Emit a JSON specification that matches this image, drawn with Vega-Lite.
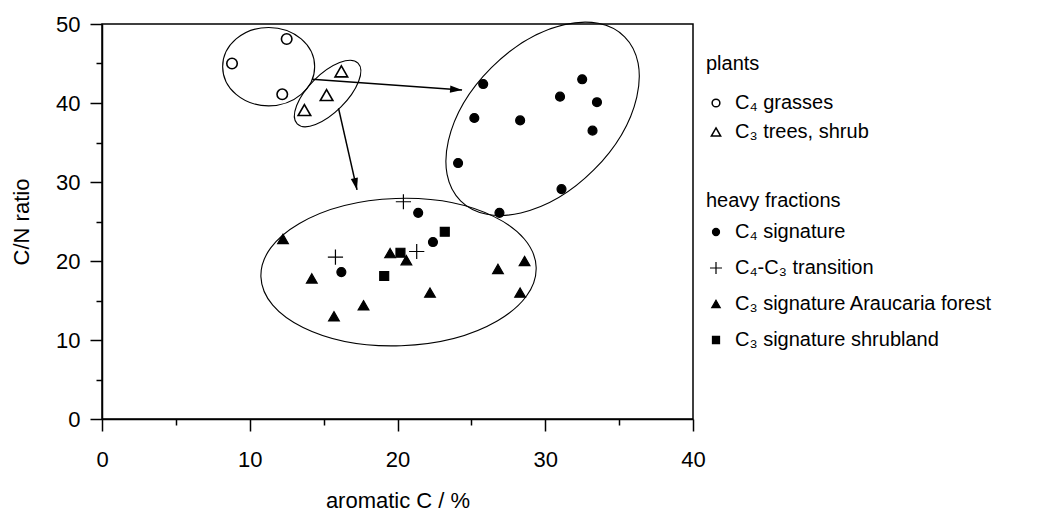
{
  "$schema": "https://vega.github.io/schema/vega-lite/v6.json",
  "width": 591,
  "height": 395,
  "autosize": {"type": "none"},
  "padding": {"left": 102, "top": 24, "right": 350, "bottom": 97},
  "background": "white",
  "config": {
    "font": "Liberation Sans",
    "view": {"stroke": "black", "strokeWidth": 1.5},
    "axis": {
      "grid": false,
      "domainColor": "black",
      "domainWidth": 1.5,
      "tickColor": "black",
      "tickWidth": 1.5,
      "labelColor": "black",
      "labelFont": "Liberation Sans",
      "labelFontSize": 22,
      "labelFlush": false,
      "labelOverlap": false,
      "titleFont": "Liberation Sans",
      "titleFontSize": 22,
      "titleFontWeight": "normal",
      "titleColor": "black"
    },
    "legend": {
      "orient": "none",
      "titleFont": "Liberation Sans",
      "titleFontSize": 20,
      "titleFontWeight": "normal",
      "titleColor": "black",
      "labelFont": "Liberation Sans",
      "labelFontSize": 20,
      "labelColor": "black",
      "labelLimit": 0,
      "labelOffset": 9,
      "padding": 0
    }
  },
  "datasets": {
    "plants": [
      {"arom": 8.8, "cn": 45.0, "group": "C₄ grasses"},
      {"arom": 12.5, "cn": 48.1, "group": "C₄ grasses"},
      {"arom": 12.2, "cn": 41.1, "group": "C₄ grasses"},
      {"arom": 16.2, "cn": 44.0, "group": "C₃ trees, shrub"},
      {"arom": 15.2, "cn": 41.0, "group": "C₃ trees, shrub"},
      {"arom": 13.7, "cn": 39.1, "group": "C₃ trees, shrub"}
    ],
    "heavy": [
      {"arom": 25.8, "cn": 42.4, "group": "C₄ signature"},
      {"arom": 32.5, "cn": 43.0, "group": "C₄ signature"},
      {"arom": 31.0, "cn": 40.8, "group": "C₄ signature"},
      {"arom": 33.5, "cn": 40.1, "group": "C₄ signature"},
      {"arom": 25.2, "cn": 38.1, "group": "C₄ signature"},
      {"arom": 28.3, "cn": 37.8, "group": "C₄ signature"},
      {"arom": 33.2, "cn": 36.5, "group": "C₄ signature"},
      {"arom": 24.1, "cn": 32.4, "group": "C₄ signature"},
      {"arom": 31.1, "cn": 29.1, "group": "C₄ signature"},
      {"arom": 26.9, "cn": 26.1, "group": "C₄ signature"},
      {"arom": 21.4, "cn": 26.1, "group": "C₄ signature"},
      {"arom": 22.4, "cn": 22.4, "group": "C₄ signature"},
      {"arom": 16.2, "cn": 18.6, "group": "C₄ signature"},
      {"arom": 20.4, "cn": 27.5, "group": "C₄-C₃ transition"},
      {"arom": 21.3, "cn": 21.2, "group": "C₄-C₃ transition"},
      {"arom": 15.8, "cn": 20.5, "group": "C₄-C₃ transition"},
      {"arom": 12.25, "cn": 22.8, "group": "C₃ signature Araucaria forest"},
      {"arom": 19.5, "cn": 21.0, "group": "C₃ signature Araucaria forest"},
      {"arom": 20.6, "cn": 20.1, "group": "C₃ signature Araucaria forest"},
      {"arom": 14.2, "cn": 17.8, "group": "C₃ signature Araucaria forest"},
      {"arom": 22.2, "cn": 16.0, "group": "C₃ signature Araucaria forest"},
      {"arom": 15.7, "cn": 13.0, "group": "C₃ signature Araucaria forest"},
      {"arom": 17.7, "cn": 14.4, "group": "C₃ signature Araucaria forest"},
      {"arom": 26.8, "cn": 19.0, "group": "C₃ signature Araucaria forest"},
      {"arom": 28.6, "cn": 20.0, "group": "C₃ signature Araucaria forest"},
      {"arom": 28.3, "cn": 16.0, "group": "C₃ signature Araucaria forest"},
      {"arom": 23.2, "cn": 23.7, "group": "C₃ signature shrubland"},
      {"arom": 20.2, "cn": 21.05, "group": "C₃ signature shrubland"},
      {"arom": 19.1, "cn": 18.1, "group": "C₃ signature shrubland"}
    ],
    "ellipses": [
      {"id": "grasses", "arom": 11.28, "cn": 44.6},
      {"id": "trees", "arom": 15.27, "cn": 41.2},
      {"id": "c4", "arom": 29.82, "cn": 38.0},
      {"id": "c3", "arom": 20.07, "cn": 18.6}
    ],
    "arrows": [
      {"id": "right", "arom": 14.22, "cn": 43.0, "arom2": 24.37, "cn2": 41.65},
      {"id": "down", "arom": 16.01, "cn": 39.33, "arom2": 17.26, "cn2": 29.0}
    ]
  },
  "layer": [
    {
      "data": {"name": "ellipses"},
      "transform": [{"filter": "datum.id === 'grasses'"}],
      "mark": {"type": "point", "filled": false, "stroke": "black", "strokeWidth": 1.1, "opacity": 1, "size": 8464,
        "shape": "M1,0C1,0.471,0.552,0.852,0,0.852C-0.552,0.852,-1,0.471,-1,0C-1,-0.471,-0.552,-0.852,0,-0.852C0.552,-0.852,1,-0.471,1,0Z"},
      "encoding": {
        "x": {"field": "arom", "type": "quantitative", "scale": {"domain": [0, 40], "nice": false},
          "axis": {"orient": "bottom", "values": [5, 15, 25, 35], "tickSize": 6, "labels": false, "domain": false, "title": null}},
        "y": {"field": "cn", "type": "quantitative", "scale": {"domain": [0, 50], "nice": false},
          "axis": {"orient": "left", "values": [5, 15, 25, 35, 45], "tickSize": 6, "labels": false, "domain": false, "title": null}}
      }
    },
    {
      "data": {"name": "ellipses"},
      "transform": [{"filter": "datum.id === 'trees'"}],
      "mark": {"type": "point", "filled": false, "stroke": "black", "strokeWidth": 1.1, "opacity": 1, "size": 7396, "angle": 315,
        "shape": "M1,0C1,0.243,0.552,0.44,0,0.44C-0.552,0.44,-1,0.243,-1,0C-1,-0.243,-0.552,-0.44,0,-0.44C0.552,-0.44,1,-0.243,1,0Z"},
      "encoding": {
        "x": {"field": "arom", "type": "quantitative", "axis": null},
        "y": {"field": "cn", "type": "quantitative", "axis": null}
      }
    },
    {
      "data": {"name": "ellipses"},
      "transform": [{"filter": "datum.id === 'c4'"}],
      "mark": {"type": "point", "filled": false, "stroke": "black", "strokeWidth": 1.1, "opacity": 1, "size": 53824, "angle": 315,
        "shape": "M1,0C1,0.345,0.552,0.624,0,0.624C-0.552,0.624,-1,0.345,-1,0C-1,-0.345,-0.552,-0.624,0,-0.624C0.552,-0.624,1,-0.345,1,0Z"},
      "encoding": {
        "x": {"field": "arom", "type": "quantitative", "axis": null},
        "y": {"field": "cn", "type": "quantitative", "axis": null}
      }
    },
    {
      "data": {"name": "ellipses"},
      "transform": [{"filter": "datum.id === 'c3'"}],
      "mark": {"type": "point", "filled": false, "stroke": "black", "strokeWidth": 1.1, "opacity": 1, "size": 75845, "angle": 358,
        "shape": "M1,0C1,0.295,0.552,0.535,0,0.535C-0.552,0.535,-1,0.295,-1,0C-1,-0.295,-0.552,-0.535,0,-0.535C0.552,-0.535,1,-0.295,1,0Z"},
      "encoding": {
        "x": {"field": "arom", "type": "quantitative", "axis": null},
        "y": {"field": "cn", "type": "quantitative", "axis": null}
      }
    },
    {
      "data": {"name": "arrows"},
      "mark": {"type": "rule", "color": "black", "strokeWidth": 1.5},
      "encoding": {
        "x": {"field": "arom", "type": "quantitative", "axis": null},
        "y": {"field": "cn", "type": "quantitative", "axis": null},
        "x2": {"field": "arom2"},
        "y2": {"field": "cn2"}
      }
    },
    {
      "data": {"name": "arrows"},
      "transform": [{"filter": "datum.id === 'right'"}],
      "mark": {"type": "point", "filled": true, "color": "black", "opacity": 1, "size": 576, "angle": 4,
        "shape": "M0,0L-1,-0.3L-1,0.3Z"},
      "encoding": {
        "x": {"field": "arom2", "type": "quantitative", "axis": null},
        "y": {"field": "cn2", "type": "quantitative", "axis": null}
      }
    },
    {
      "data": {"name": "arrows"},
      "transform": [{"filter": "datum.id === 'down'"}],
      "mark": {"type": "point", "filled": true, "color": "black", "opacity": 1, "size": 576, "angle": 77,
        "shape": "M0,0L-1,-0.3L-1,0.3Z"},
      "encoding": {
        "x": {"field": "arom2", "type": "quantitative", "axis": null},
        "y": {"field": "cn2", "type": "quantitative", "axis": null}
      }
    },
    {
      "data": {"name": "plants"},
      "mark": {"type": "point", "filled": false, "stroke": "black", "strokeWidth": 1.6, "opacity": 1, "size": 110},
      "encoding": {
        "x": {"field": "arom", "type": "quantitative",
          "axis": {"orient": "bottom", "values": [0, 10, 20, 30, 40], "tickSize": 12, "labelPadding": 18, "title": "aromatic C / %", "titlePadding": 20}},
        "y": {"field": "cn", "type": "quantitative",
          "axis": {"orient": "left", "values": [0, 10, 20, 30, 40, 50], "tickSize": 12, "labelPadding": 10, "title": "C/N ratio", "titlePadding": 22}},
        "shape": {
          "field": "group", "type": "nominal",
          "scale": {"domain": ["C₄ grasses", "C₃ trees, shrub"], "range": ["circle", "M0,-1.04L1.2,1.04L-1.2,1.04Z"]},
          "legend": {"title": "plants", "legendX": 604, "legendY": 30, "titlePadding": 19, "rowPadding": 9, "symbolSize": 60, "symbolStrokeWidth": 1.5}
        }
      }
    },
    {
      "data": {"name": "heavy"},
      "mark": {"type": "point", "filled": true, "color": "black", "stroke": "black", "strokeWidth": 1.2, "opacity": 1, "size": 80},
      "encoding": {
        "x": {"field": "arom", "type": "quantitative", "axis": null},
        "y": {"field": "cn", "type": "quantitative", "axis": null},
        "shape": {
          "field": "group", "type": "nominal",
          "scale": {
            "domain": ["C₄ signature", "C₄-C₃ transition", "C₃ signature Araucaria forest", "C₃ signature shrubland"],
            "range": ["circle", "M-1.7,0H1.7M0,-1.7V1.7", "M0,-1.04L1.2,1.04L-1.2,1.04Z", "square"]
          },
          "legend": {"title": "heavy fractions", "legendX": 604, "legendY": 167, "titlePadding": 11, "rowPadding": 16, "symbolSize": 50, "symbolStrokeWidth": 1.2}
        }
      }
    }
  ],
  "resolve": {
    "scale": {"shape": "independent"},
    "axis": {"x": "independent", "y": "independent"}
  }
}
